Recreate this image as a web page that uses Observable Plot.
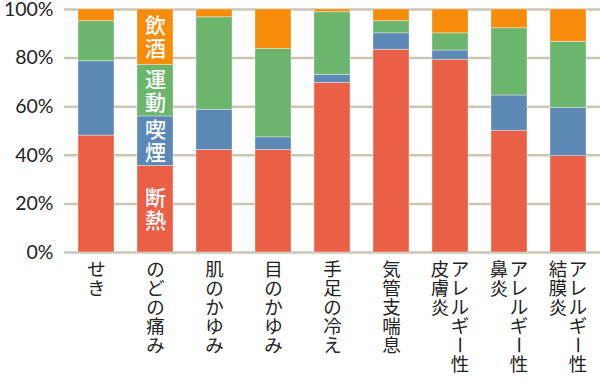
<!DOCTYPE html>
<html><head><meta charset="utf-8">
<script src="https://cdn.jsdelivr.net/npm/d3@7"></script>
<script src="https://cdn.jsdelivr.net/npm/@observablehq/plot@0.6"></script>
<style>
html,body{margin:0;padding:0;background:#fff;}
</style>
</head><body>
<div id="chart"></div>
<script>
const categories = ["せき","のどの痛み","肌のかゆみ","目のかゆみ","手足の冷え","気管支喘息","アレルギー性皮膚炎","アレルギー性鼻炎","アレルギー性結膜炎"];
const labelCol1 = ["せき","のどの痛み","肌のかゆみ","目のかゆみ","手足の冷え","気管支喘息","アレルギー性","アレルギー性","アレルギー性"];
const labelCol2 = ["","","","","","","皮膚炎","鼻炎","結膜炎"];
const series = ["断熱","喫煙","運動","飲酒"];
const colors = ["#EA6047","#5B88B4","#6BB56C","#F78C0A"];
const v断熱 = [48.1,35.6,42.2,42.2,69.8,83.4,79.3,50.1,39.7];
const v喫煙 = [30.6,20.4,16.5,5.2,3.3,6.8,3.8,14.5,19.8];
const v運動 = [16.5,21.2,38.1,36.4,25.8,5.0,7.1,27.7,27.2];
const v飲酒 = [4.8,22.8,3.2,16.2,1.1,4.8,9.8,7.7,13.3];
const yTicks = [0,0.2,0.4,0.6,0.8,1];
const labelCategory = "のどの痛み";

const seriesValues = [v断熱, v喫煙, v運動, v飲酒];
const data = [];
categories.forEach((c, i) => series.forEach((s, j) => data.push({cat: c, series: s, value: seriesValues[j][i]})));

// vertical (top-to-bottom, right-to-left) category labels, one glyph per text
const chars = [];
categories.forEach((c, i) => {
  const cols = [labelCol1[i], labelCol2[i]].filter(s => s);
  cols.forEach((s, ci) => Array.from(s).forEach((ch, k) => chars.push({cat: c, ch, row: k, kind: cols.length === 1 ? "single" : (ci === 0 ? "right" : "left")})));
});
const colOffset = {single: 0, right: 9.5, left: -10.5};
const maxRows = d3.max(chars, d => d.row) + 1;
const labelFont = "'Noto Sans CJK JP', sans-serif";
const labelSize = 18.5;
const rotatedChars = new Set(["ー"]);
const rotShift = [-7, -7]; // recentre the turned glyph within its cell

const xLabelMarks = [];
for (const kind of Object.keys(colOffset)) {
  for (let k = 0; k < maxRows; k++) {
    const sub = chars.filter(d => d.kind === kind && d.row === k);
    const normal = sub.filter(d => !rotatedChars.has(d.ch));
    const rotated = sub.filter(d => rotatedChars.has(d.ch));
    const base = {x: "cat", text: "ch", frameAnchor: "bottom", fontSize: labelSize, fill: "#222", fontFamily: labelFont};
    if (normal.length) xLabelMarks.push(Plot.text(normal, {...base, rotate: () => 0, dy: 23.5 + 19 * k, dx: colOffset[kind]}));
    if (rotated.length) xLabelMarks.push(Plot.text(rotated, {...base, rotate: () => 90, dy: 23.5 + 19 * k + rotShift[1], dx: colOffset[kind] + rotShift[0]}));
  }
}

const plot = Plot.plot({
  width: 600, height: 380,
  marginLeft: 64, marginRight: 0, marginTop: 9, marginBottom: 128,
  style: {fontFamily: "Lato, 'Noto Sans CJK JP', sans-serif", background: "#fff", overflow: "visible"},
  x: {domain: categories, paddingInner: 0.39, paddingOuter: 0.215, axis: null},
  y: {domain: [0, 1], axis: null},
  color: {domain: series, range: colors},
  marks: [
    Plot.ruleY(yTicks, {stroke: "#c9c6b5", strokeWidth: 2.5}),
    Plot.barY(data, Plot.stackY({x: "cat", y: "value", fill: "series", offset: "normalize", stroke: "#fff", strokeOpacity: 0.35, strokeWidth: 1})),
    Plot.axisY({ticks: yTicks, tickFormat: d3.format(".0%"), tickSize: 0, tickPadding: 11, fontSize: 19.5, fill: "#222", label: null, ariaLabel: "yticks"}),
    Plot.text(data.filter(d => d.cat === labelCategory), Plot.stackY({x: "cat", y: "value", z: "series", offset: "normalize", text: d => d.series.split("").join("\n"), fill: "#fff", fontSize: 21, fontWeight: 500, lineHeight: 1.1, fontFamily: labelFont})),
    ...xLabelMarks
  ]
});
d3.select(plot).selectAll('g[aria-label="yticks"]').style("letter-spacing", "1px");
document.getElementById("chart").appendChild(plot);
</script>
</body></html>
